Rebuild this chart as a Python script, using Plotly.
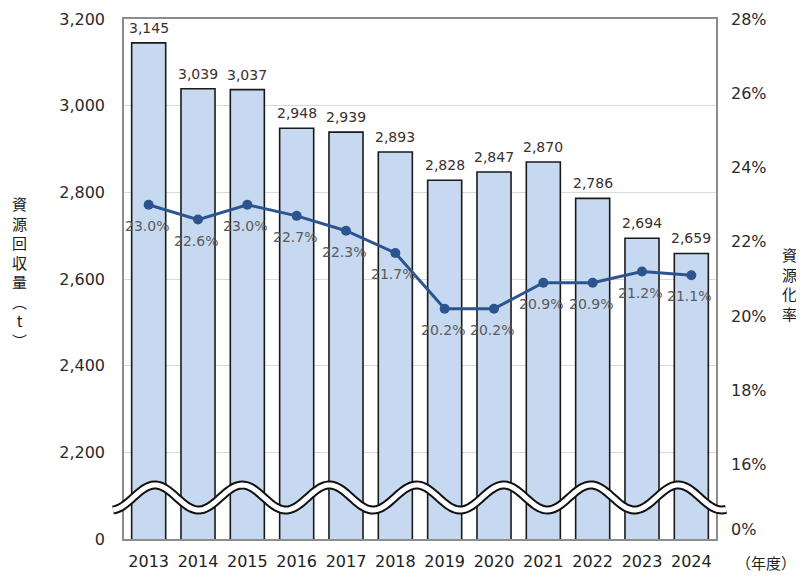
import numpy as np
import plotly.graph_objects as go

years = ["2013", "2014", "2015", "2016", "2017", "2018", "2019", "2020", "2021", "2022", "2023", "2024"]
recovered_t = [3145, 3039, 3037, 2948, 2939, 2893, 2828, 2847, 2870, 2786, 2694, 2659]
rate_pct = [23.0, 22.6, 23.0, 22.7, 22.3, 21.7, 20.2, 20.2, 20.9, 20.9, 21.2, 21.1]

left_tickvals = [2000, 2200, 2400, 2600, 2800, 3000, 3200]
left_ticktext = ["0", "2,200", "2,400", "2,600", "2,800", "3,000", "3,200"]
right_tickvals = [14.25, 16, 18, 20, 22, 24, 26, 28]
right_ticktext = ["0%", "16%", "18%", "20%", "22%", "24%", "26%", "28%"]

# page body has an 8px margin; figure sized/margined so the plot lands where the reference has it
OFF = 8
W, H = 796, 569
L, R, T, B = 116, 88, 11, 38
PW, PH = W - L - R, H - T - B

FONT = "DejaVu Sans"
CJK = "Noto Sans CJK JP"


def sx(px):
    """screen x (reference pixels) -> paper x"""
    return (px - OFF - L) / PW


def sy(py):
    """screen y (reference pixels) -> paper y"""
    return (H - B - (py - OFF)) / PH


fig = go.Figure()
fig.add_trace(go.Bar(
    x=years, y=recovered_t, width=0.69,
    marker=dict(color="#c6d9f1", line=dict(color="#1a1a1a", width=1.6)),
    yaxis="y", showlegend=False,
))
fig.add_trace(go.Scatter(
    x=years, y=rate_pct, yaxis="y2", mode="lines+markers",
    line=dict(color="#2c5590", width=3),
    marker=dict(size=10, color="#2c5590"),
    cliponaxis=False, showlegend=False,
))

annotations = []
for i, v in enumerate(recovered_t):
    annotations.append(dict(
        x=i, y=v, xref="x", yref="y", text=f"{v:,}", showarrow=False,
        yanchor="bottom", yshift=5,
        font=dict(family=FONT, size=14, color="#3a2e2e")))
for i, v in enumerate(rate_pct):
    annotations.append(dict(
        x=i, y=v, xref="x", yref="y2", text=f"{v:.1f}%", showarrow=False,
        yanchor="middle", yshift=-21, xshift=-2,
        font=dict(family=FONT, size=14, color="#5a5a5a")))

# axis-break wave (decoration)
xs = np.linspace(113, 726, 300)
ys = 497.5 - 12.5 * np.cos(2 * np.pi * (xs - 155) / 87.2)
path = "M " + " L ".join(f"{sx(a):.5f},{sy(b):.5f}" for a, b in zip(xs, ys))
fig.add_shape(type="path", path=path, xref="paper", yref="paper",
              line=dict(color="#111111", width=9), layer="above")
fig.add_shape(type="path", path=path, xref="paper", yref="paper",
              line=dict(color="#ffffff", width=5), layer="above")

annotations += [
    dict(text="資<br>源<br>回<br>収<br>量<br>︵<br>t<br>︶", xref="paper", yref="paper",
         x=sx(19), y=sy(272), xanchor="center", yanchor="middle", showarrow=False,
         font=dict(family=CJK, size=15, color="#1a1a1a"), align="center"),
    dict(text="資<br>源<br>化<br>率", xref="paper", yref="paper",
         x=sx(789), y=sy(284), xanchor="center", yanchor="middle", showarrow=False,
         font=dict(family=CJK, size=15, color="#1a1a1a"), align="center"),
    dict(text="（年度）", xref="paper", yref="paper",
         x=sx(766), y=sy(562), xanchor="center", yanchor="middle", showarrow=False,
         font=dict(family=CJK, size=15, color="#222222")),
]

fig.update_layout(
    width=W, height=H,
    margin=dict(l=L, r=R, t=T, b=B, autoexpand=False),
    paper_bgcolor="white", plot_bgcolor="white",
    xaxis=dict(type="category", range=[-0.5, len(years) - 0.5], showgrid=False,
               showline=True, linecolor="#8c8c8c",
               linewidth=1.5, mirror=True, ticks="", automargin=False,
               ticklabelstandoff=7,
               tickfont=dict(family=FONT, size=16, color="#222222")),
    yaxis=dict(range=[2000, 3200], tickvals=left_tickvals, ticktext=left_ticktext,
               showgrid=True, gridcolor="#d9d9d9", gridwidth=1, zeroline=False,
               showline=True, linecolor="#8c8c8c", linewidth=1.5, mirror=True,
               ticks="", automargin=False, ticklabelstandoff=14,
               tickfont=dict(family=FONT, size=16, color="#2a2a2a")),
    yaxis2=dict(range=[14, 28], tickvals=right_tickvals, ticktext=right_ticktext,
                overlaying="y", side="right", showgrid=False, zeroline=False,
                ticks="", automargin=False, ticklabelstandoff=14,
                tickfont=dict(family=FONT, size=16, color="#2a2a2a")),
    annotations=annotations,
)

fig.write_html("out.html")
